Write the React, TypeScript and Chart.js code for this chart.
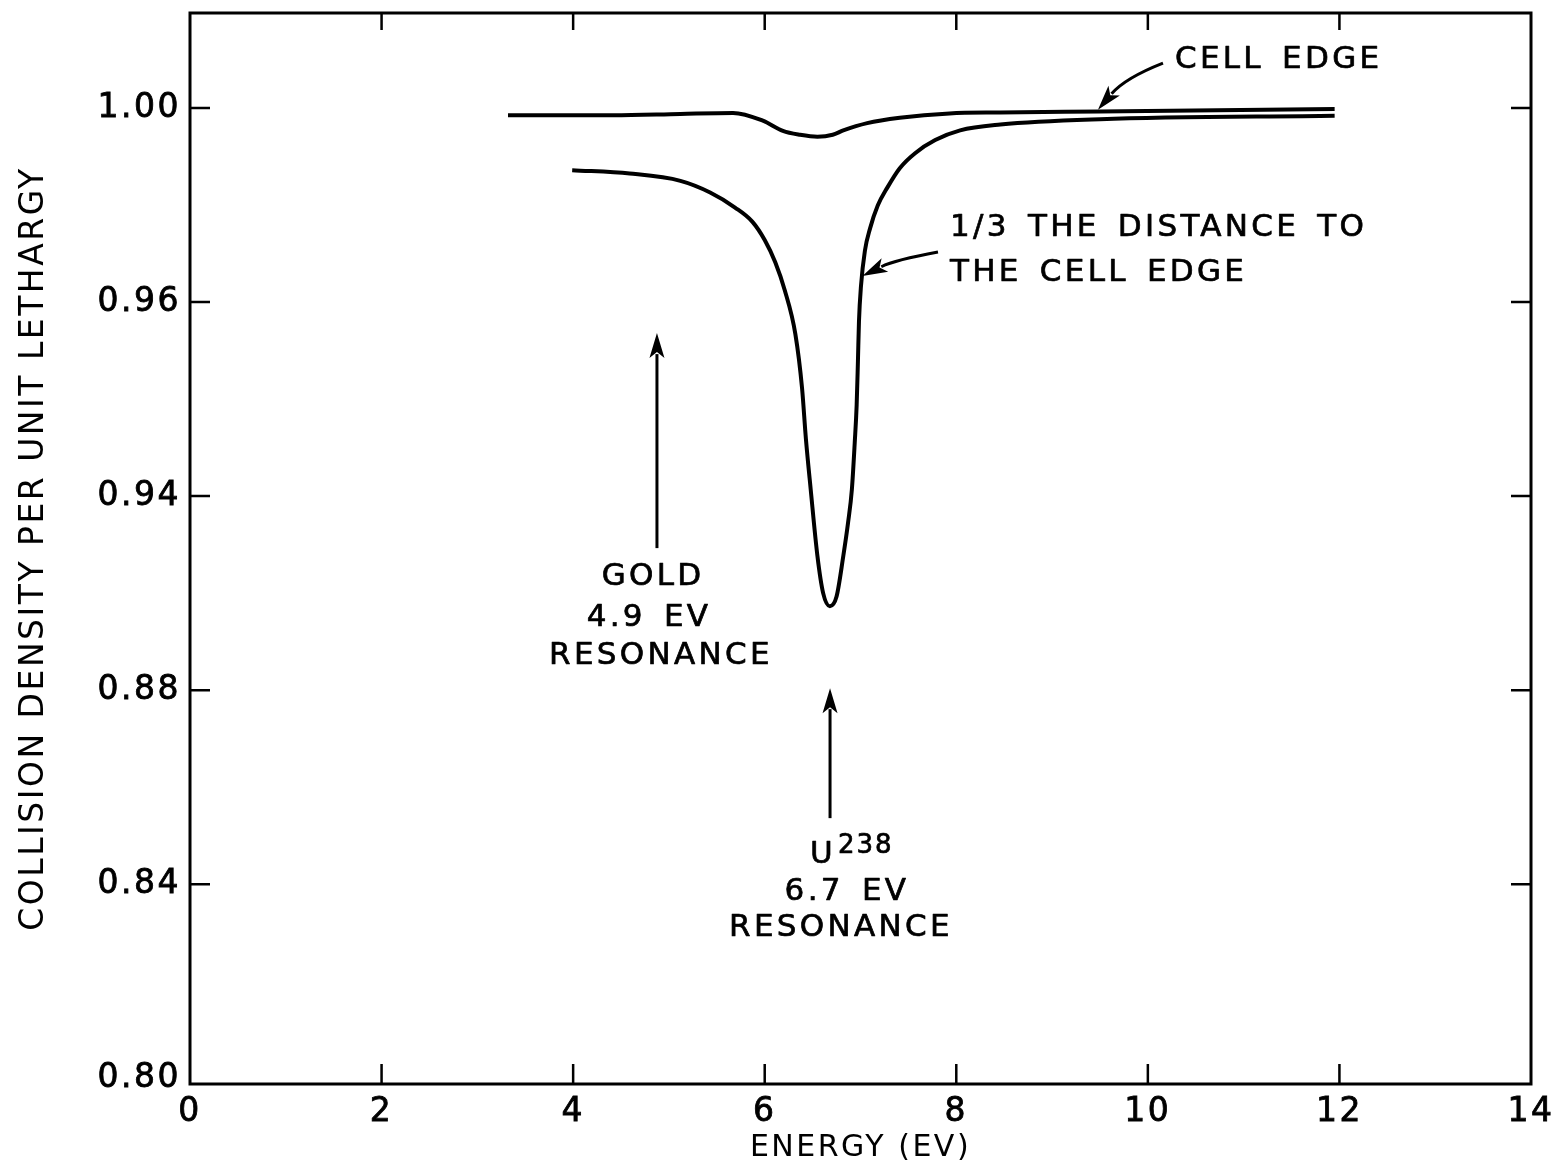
import React, { useEffect, useRef } from "react";
import { Chart, registerables } from "chart.js";

Chart.register(...registerables);

// ---------- data ----------
const edgeEnergy = [3.32, 4.42, 5.12, 5.67, 5.98, 6.19, 6.37, 6.55, 6.71, 6.82, 7.07, 7.41, 7.93, 8.46, 9.5, 11.95];
const edgeDensity = [0.9985, 0.9985, 0.9988, 0.999, 0.9974, 0.9953, 0.9945, 0.9941, 0.9945, 0.9954, 0.9969, 0.998, 0.9989, 0.9991, 0.9993, 0.9998];

const thirdEnergy = [3.99, 4.59, 5.12, 5.43, 5.69, 5.87, 6.0, 6.11, 6.21, 6.32, 6.39, 6.43, 6.48, 6.55, 6.61, 6.68, 6.75, 6.82, 6.87, 6.91, 6.94, 6.96, 6.973, 6.984, 7.005, 7.046, 7.1, 7.18, 7.28, 7.41, 7.57, 7.78, 8.04, 8.46, 9.5, 11.95];
const thirdDensity = [0.9872, 0.9865, 0.985, 0.9826, 0.9795, 0.9766, 0.9728, 0.9682, 0.9624, 0.9534, 0.9422, 0.9318, 0.9214, 0.9077, 0.9, 0.8973, 0.8993, 0.9076, 0.9145, 0.9214, 0.9311, 0.9388, 0.9477, 0.956, 0.9633, 0.9706, 0.9752, 0.9799, 0.9836, 0.9876, 0.9907, 0.9934, 0.9954, 0.9966, 0.9977, 0.9984];

const xTickValues = [0, 2, 4, 6, 8, 10, 12, 14];
const xTickLabels = ["0", "2", "4", "6", "8", "10", "12", "14"];
const yTickValues = [0.8, 0.84, 0.88, 0.92, 0.96, 1.0];
const yTickLabels = ["0.80", "0.84", "0.88", "0.94", "0.96", "1.00"];

const xTitle = "ENERGY (EV)";
const yTitle = "COLLISION DENSITY PER UNIT LETHARGY";

// ---------- annotations (in data coordinates) ----------
type Label = { text: string; x: number; y: number; align: CanvasTextAlign; size: number };
const annotationLabels: Label[] = [
  { text: "CELL EDGE", x: 10.283, y: 1.0099, align: "left", size: 31 },
  { text: "1/3 THE DISTANCE TO", x: 7.934, y: 0.97526, align: "left", size: 31 },
  { text: "THE CELL EDGE", x: 7.934, y: 0.96598, align: "left", size: 31 },
  { text: "GOLD", x: 4.834, y: 0.9033, align: "center", size: 31 },
  { text: "4.9 EV", x: 4.792, y: 0.89485, align: "center", size: 31 },
  { text: "RESONANCE", x: 4.917, y: 0.88701, align: "center", size: 31 },
  { text: "U", x: 6.473, y: 0.84598, align: "left", size: 31 },
  { text: "238", x: 6.765, y: 0.84784, align: "left", size: 26 },
  { text: "6.7 EV", x: 6.859, y: 0.83835, align: "center", size: 31 },
  { text: "RESONANCE", x: 6.796, y: 0.83093, align: "center", size: 31 },
];

type Arrow = { from: [number, number]; ctrl: [number, number] | null; to: [number, number] };
const annotationArrows: Arrow[] = [
  { from: [10.158, 1.00928], ctrl: [9.761, 1.00619], to: [9.479, 0.99965] },
  { from: [7.809, 0.97031], ctrl: [7.36, 0.96866], to: [7.02, 0.9654] },
  { from: [4.875, 0.90928], ctrl: null, to: [4.875, 0.95361] },
  { from: [6.682, 0.85361], ctrl: null, to: [6.682, 0.88041] },
];

const FONT = "'DejaVu Sans', sans-serif";

const decorPlugin = {
  id: "decor",
  beforeDraw(chart: any) {
    const ctx = chart.ctx;
    ctx.save();
    ctx.fillStyle = "#fff";
    ctx.fillRect(0, 0, chart.width, chart.height);
    ctx.restore();
    ctx.letterSpacing = "2.5px";
  },
  afterDraw(chart: any) {
    const { ctx, chartArea: a, scales } = chart;
    const xs = scales.x;
    const ys = scales.y;
    ctx.save();
    ctx.letterSpacing = "0px";
    ctx.strokeStyle = "#000";
    ctx.fillStyle = "#000";
    ctx.lineCap = "butt";
    // frame
    ctx.lineWidth = 3;
    ctx.strokeRect(a.left, a.top, a.right - a.left, a.bottom - a.top);
    // inward ticks
    ctx.lineWidth = 2.5;
    ctx.beginPath();
    for (const v of yTickValues) {
      const py = ys.getPixelForValue(v);
      if (py > a.bottom - 12) continue;
      ctx.moveTo(a.left, py);
      ctx.lineTo(a.left + 20, py);
      ctx.moveTo(a.right, py);
      ctx.lineTo(a.right - 20, py);
    }
    for (const v of xTickValues) {
      const px = xs.getPixelForValue(v);
      if (px < a.left + 4 || px > a.right - 4) continue;
      ctx.moveTo(px, a.bottom);
      ctx.lineTo(px, a.bottom - 20);
      ctx.moveTo(px, a.top);
      ctx.lineTo(px, a.top + 17);
    }
    ctx.stroke();

    // arrows
    for (const ar of annotationArrows) {
      const fx = xs.getPixelForValue(ar.from[0]);
      const fy = ys.getPixelForValue(ar.from[1]);
      const tx = xs.getPixelForValue(ar.to[0]);
      const ty = ys.getPixelForValue(ar.to[1]);
      const cx = ar.ctrl ? xs.getPixelForValue(ar.ctrl[0]) : (fx + tx) / 2;
      const cy = ar.ctrl ? ys.getPixelForValue(ar.ctrl[1]) : (fy + ty) / 2;
      let dx = tx - cx;
      let dy = ty - cy;
      const len = Math.hypot(dx, dy) || 1;
      dx /= len;
      dy /= len;
      const headLen = 25;
      const headW = 7.5;
      const bx = tx - dx * headLen;
      const by = ty - dy * headLen;
      ctx.lineWidth = 3;
      ctx.beginPath();
      ctx.moveTo(fx, fy);
      if (ar.ctrl) ctx.quadraticCurveTo(cx, cy, bx + dx * 4, by + dy * 4);
      else ctx.lineTo(bx + dx * 4, by + dy * 4);
      ctx.stroke();
      ctx.beginPath();
      ctx.moveTo(tx, ty);
      ctx.lineTo(bx - dy * headW, by + dx * headW);
      ctx.lineTo(bx + dx * 6, by + dy * 6);
      ctx.lineTo(bx + dy * headW, by - dx * headW);
      ctx.closePath();
      ctx.fill();
    }

    // text labels
    ctx.textBaseline = "middle";
    ctx.lineWidth = 0.7;
    ctx.lineJoin = "round";
    for (const lb of annotationLabels) {
      ctx.font = `${lb.size}px ${FONT}`;
      ctx.letterSpacing = lb.size < 28 ? "2px" : "3.3px";
      (ctx as any).wordSpacing = "5px";
      ctx.textAlign = lb.align;
      const px = xs.getPixelForValue(lb.x);
      const py = ys.getPixelForValue(lb.y);
      ctx.fillText(lb.text, px, py);
      ctx.strokeText(lb.text, px, py);
    }
    ctx.restore();
  },
};

export default function App() {
  const ref = useRef<HTMLCanvasElement>(null);
  useEffect(() => {
    const canvas = ref.current;
    if (!canvas) return;
    const chart = new Chart(canvas, {
      type: "line",
      data: {
        datasets: [
          {
            label: "Cell edge",
            data: edgeEnergy.map((e, i) => ({ x: e, y: edgeDensity[i] })),
            borderColor: "#000",
            borderWidth: 4,
            pointRadius: 0,
            fill: false,
            cubicInterpolationMode: "monotone",
          },
          {
            label: "1/3 the distance to the cell edge",
            data: thirdEnergy.map((e, i) => ({ x: e, y: thirdDensity[i] })),
            borderColor: "#000",
            borderWidth: 4,
            pointRadius: 0,
            fill: false,
            cubicInterpolationMode: "monotone",
          },
        ],
      },
      options: {
        animation: false,
        responsive: false,
        devicePixelRatio: 1,
        layout: { padding: { left: 0, right: 31, top: 13, bottom: 0 } },
        plugins: { legend: { display: false }, tooltip: { enabled: false } },
        scales: {
          x: {
            type: "linear",
            min: 0,
            max: 14,
            afterBuildTicks: (s: any) => {
              s.ticks = xTickValues.map((v) => ({ value: v }));
            },
            afterFit: (s: any) => {
              s.height = 83;
              s.paddingLeft = 0;
              s.paddingRight = 0;
            },
            grid: { display: false, drawTicks: false },
            border: { display: false },
            ticks: {
              autoSkip: false,
              maxRotation: 0,
              padding: 9,
              color: "#000",
              textStrokeColor: "#000",
              textStrokeWidth: 0.8,
              font: { family: FONT, size: 33 },
              callback: (_v: any, i: number) => xTickLabels[i],
            },
            title: {
              display: true,
              text: xTitle,
              color: "#000",
              font: { family: FONT, size: 30 },
              padding: { top: 0, bottom: 1 },
            },
          },
          y: {
            type: "linear",
            min: 0.7988,
            max: 1.0196,
            afterBuildTicks: (s: any) => {
              s.ticks = yTickValues.map((v) => ({ value: v }));
            },
            afterFit: (s: any) => {
              s.width = 190;
              s.paddingTop = 0;
              s.paddingBottom = 0;
            },
            grid: { display: false, drawTicks: false },
            border: { display: false },
            ticks: {
              autoSkip: false,
              padding: 9,
              color: "#000",
              textStrokeColor: "#000",
              textStrokeWidth: 0.8,
              font: { family: FONT, size: 33 },
              callback: (_v: any, i: number) => yTickLabels[i],
            },
            title: {
              display: true,
              text: yTitle,
              color: "#000",
              font: { family: FONT, size: 33 },
              padding: { top: 15, bottom: 0 },
            },
          },
        },
      },
      plugins: [decorPlugin],
    } as any);
    return () => chart.destroy();
  }, []);
  return (
    <div style={{ position: "absolute", left: 0, top: 0, width: 1562, height: 1167, background: "#fff" }}>
      <canvas ref={ref} width={1562} height={1167} style={{ display: "block" }} />
    </div>
  );
}
